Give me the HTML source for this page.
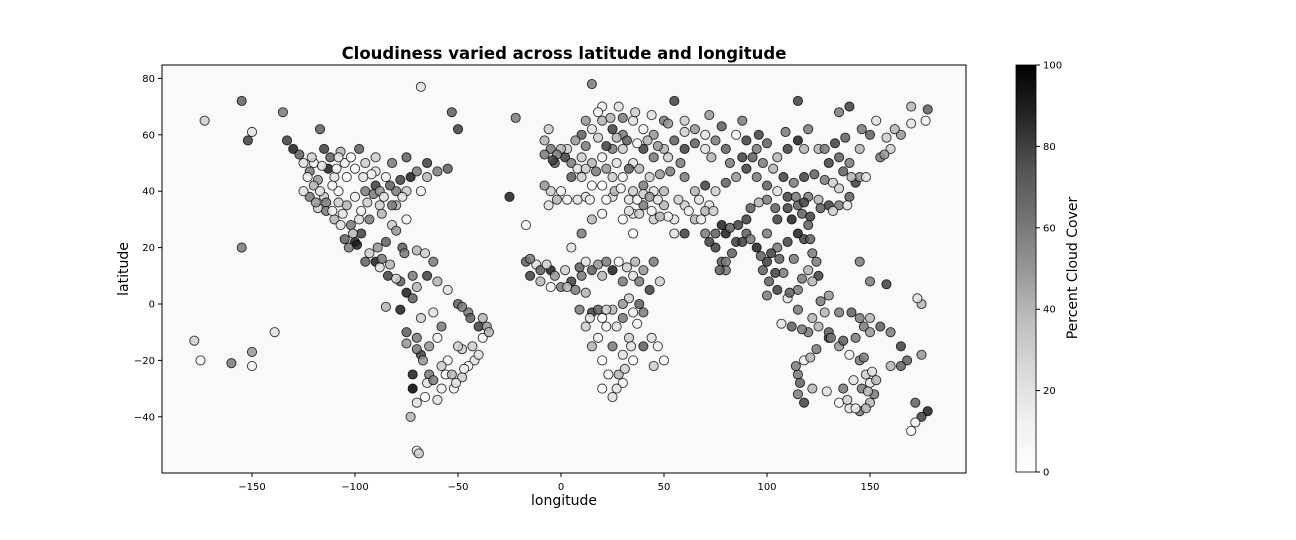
<!DOCTYPE html>
<html><head><meta charset="utf-8"><style>
html,body{margin:0;padding:0;background:#fff;width:1296px;height:540px;overflow:hidden;font-family:"DejaVu Sans","Liberation Sans",sans-serif;}
</style></head><body>
<svg id="chart" width="1296" height="540" xmlns="http://www.w3.org/2000/svg" font-family="DejaVu Sans, Liberation Sans, sans-serif">
<text x="564" y="59" text-anchor="middle" font-size="16.5" font-weight="bold">Cloudiness varied across latitude and longitude</text>
<rect x="162" y="65" width="804" height="408" fill="#f9f9f9" stroke="#000" stroke-width="1"/>
<g id="xticks"></g>
<g id="yticks"></g>
<g id="points"></g>
<text x="564" y="505" text-anchor="middle" font-size="14">longitude</text>
<text x="128" y="269" text-anchor="middle" font-size="14" transform="rotate(-90 128 269)">latitude</text>
<defs><linearGradient id="greys" x1="0" y1="1" x2="0" y2="0">
<stop offset="0" stop-color="#ffffff"/><stop offset="0.125" stop-color="#f0f0f0"/><stop offset="0.25" stop-color="#d9d9d9"/><stop offset="0.375" stop-color="#bdbdbd"/><stop offset="0.5" stop-color="#969696"/><stop offset="0.625" stop-color="#737373"/><stop offset="0.75" stop-color="#525252"/><stop offset="0.875" stop-color="#252525"/><stop offset="1" stop-color="#000000"/>
</linearGradient></defs>
<rect x="1016" y="65" width="20" height="407" fill="url(#greys)" stroke="#000" stroke-width="0.8"/>
<g id="cbticks"></g>
<text x="1077" y="268" text-anchor="middle" font-size="14" transform="rotate(-90 1077 268)">Percent Cloud Cover</text>
</svg>
<script>
const xTicks=[-150,-100,-50,0,50,100,150];
const yTicks=[-40,-20,0,20,40,60,80];
const cbTicks=[0,20,40,60,80,100];
const lons=[],lats=[],clouds=[];
const pts=[[-173,65,30],[-155,72,70],[-150,61,20],[-152,58,80],[-135,68,60],[-133,58,80],[-130,55,90],[-125,50,20],[-122,47,60],[-120,50,10],[-118,34,30],[-115,55,80],[-112,52,70],[-110,45,20],[-108,40,5],[-105,50,10],[-100,48,0],[-104,35,40],[-100,22,90],[-103,20,60],[-98,30,20],[-95,40,60],[-90,42,80],[-88,35,30],[-85,45,10],[-80,40,60],[-78,44,80],[-75,40,30],[-73,45,90],[-70,47,60],[-65,50,80],[-60,47,60],[-55,48,70],[-53,68,70],[-50,62,80],[-68,77,20],[-82,28,30],[-85,22,70],[-90,15,90],[-84,10,80],[-78,8,70],[-75,4,90],[-72,10,60],[-65,10,80],[-60,8,40],[-55,5,20],[-50,0,70],[-45,-3,60],[-40,-8,80],[-38,-12,10],[-42,-20,20],[-48,-16,30],[-55,-20,10],[-58,-30,10],[-64,-25,60],[-68,-18,80],[-70,-12,60],[-75,-10,70],[-78,-2,90],[-72,-30,100],[-70,-35,20],[-73,-40,40],[-66,-33,0],[-60,-34,20],[-52,-30,10],[-48,-26,30],[-70,-52,10],[-69,-53,30],[-72,-25,90],[-64,-15,50],[-58,-8,60],[-62,-3,20],[-56,-25,5],[-45,-22,0],[-50,-15,30],[-44,-5,70],[-38,-5,40],[-85,-1,40],[-155,20,60],[-150,-17,50],[-150,-22,10],[-160,-21,60],[-175,-20,10],[-178,-13,30],[-139,-10,20],[-117,62,70],[-95,50,30],[-90,47,20],[-110,30,40],[-97,25,80],[-93,30,60],[-87,32,40],[-80,26,50],[-77,20,70],[-70,19,40],[-66,18,30],[-62,15,60],[-75,30,10],[-95,15,70],[-88,13,20],[-100,38,10],[-115,38,30],[-122,38,60],[-125,40,20],[-118,44,50],[-113,48,90],[-107,54,40],[-98,55,70],[-90,52,30],[-82,50,60],[-75,52,70],[-65,45,40],[-68,40,10],
[-25,38,90],[-17,28,10],[-22,66,60],[-17,15,70],[-15,10,80],[-10,8,40],[-5,6,10],[0,6,60],[5,8,80],[10,10,60],[2,12,30],[-5,12,90],[-12,14,20],[15,12,70],[20,10,40],[25,12,90],[30,8,60],[35,10,20],[40,12,50],[43,5,80],[48,8,30],[38,0,70],[35,-3,10],[30,-5,60],[25,-2,40],[20,-5,0],[15,-3,80],[12,-8,30],[18,-12,10],[25,-15,60],[30,-18,20],[35,-20,0],[28,-25,40],[20,-30,0],[25,-33,20],[30,-28,10],[45,-22,30],[47,-15,10],[50,-20,5],[40,-15,70],[33,-12,30],[5,20,20],[10,25,60],[15,30,40],[20,32,10],[30,30,0],[35,32,20],[40,35,60],[45,30,30],[50,35,40],[55,25,20],[60,25,80],[35,25,0],[25,38,20],[15,42,0],[10,45,30],[5,45,70],[0,40,10],[-5,40,30],[-8,42,50],[-3,50,70],[2,52,80],[5,50,60],[10,52,30],[15,50,40],[20,52,10],[25,55,60],[30,55,30],[35,50,20],[40,55,80],[45,52,60],[50,55,40],[55,58,70],[60,55,80],[-5,55,60],[-8,58,40],[10,60,70],[15,62,20],[20,65,40],[25,62,80],[30,60,60],[35,65,20],[40,62,10],[45,60,50],[50,65,60],[55,72,80],[20,70,10],[28,70,20],[15,78,60],[30,45,10],[35,40,30],[40,42,60],[45,40,20],[50,40,40],[25,45,30],[20,42,0],[12,38,20],
[60,65,30],[65,62,50],[70,60,20],[75,58,60],[80,55,70],[85,60,10],[90,58,80],[95,55,60],[100,57,70],[105,52,40],[110,55,80],[115,58,90],[120,62,60],[125,55,40],[130,50,80],[135,52,70],[140,50,60],[145,55,40],[150,60,70],[155,52,60],[160,55,30],[165,60,50],[170,70,40],[178,69,70],[177,65,10],[115,72,80],[135,68,60],[140,70,80],[60,45,60],[65,40,40],[70,42,80],[75,40,30],[80,43,70],[85,45,50],[90,48,80],[95,45,60],[100,42,70],[105,40,20],[110,38,80],[115,35,70],[120,38,60],[125,37,40],[130,35,80],[135,35,60],[140,38,70],[143,43,80],[145,45,50],[148,45,20],[65,30,40],[70,25,60],[75,20,80],[78,15,70],[80,25,90],[85,22,80],[90,25,70],[95,20,90],[100,15,80],[105,20,60],[110,22,80],[115,25,90],[120,28,70],[122,18,60],[125,10,80],[120,12,40],[115,5,60],[110,2,20],[105,5,80],[100,3,60],[98,12,70],[72,35,20],[68,30,10],[60,35,30],[55,30,20],[105,30,80],[112,30,90],[117,32,70],[100,25,60],[90,30,80],[80,12,60],
[115,-25,60],[115,-32,60],[118,-20,10],[120,-10,60],[125,-8,40],[130,-12,80],[135,-15,50],[140,-18,10],[145,-20,60],[148,-25,30],[150,-28,20],[152,-32,60],[150,-35,40],[145,-38,60],[140,-37,20],[135,-35,0],[130,-10,70],[145,-5,60],[150,-5,40],[155,-8,70],[160,-10,60],[165,-15,80],[168,-20,70],[175,-18,50],[178,-38,90],[175,-40,80],[172,-42,10],[170,-45,0],[172,-35,70],[175,0,40],[173,2,20],[158,7,80],[150,8,60],[145,15,60],[130,3,50],[118,-35,80],[160,-22,40],[165,-22,70],
[-127,53,70],[-123,45,10],[-120,42,40],[-117,40,20],[-114,36,60],[-111,42,10],[-108,36,30],[-106,32,20],[-102,28,60],[-99,21,90],[-101,25,40],[-97,33,10],[-94,36,30],[-91,39,60],[-88,40,50],[-86,38,20],[-83,42,70],[-80,35,40],[-77,38,20],[-82,35,60],[-92,46,10],[-96,45,20],[-104,45,0],[-109,48,10],[-116,49,20],[-121,52,30],[-108,52,20],[-102,52,0],[-119,36,50],[-114,33,60],[-111,33,10],[-107,28,20],[-105,23,70],[-93,18,30],[-89,20,50],[-87,16,60],[-83,14,40],[-80,9,30],[-76,18,60],[-72,2,70],[-70,6,40],[-68,-5,30],[-75,-14,50],[-70,-16,60],[-67,-20,50],[-65,-28,20],[-62,-27,60],[-58,-22,30],[-53,-25,40],[-51,-28,20],[-47,-23,10],[-43,-15,30],[-40,-18,20],[-36,-8,50],[-35,-10,40],[-48,-1,60],[-60,-12,10],
[-15,16,60],[-10,12,70],[-7,14,30],[-3,10,50],[3,6,40],[7,5,60],[9,13,70],[12,15,20],[18,14,50],[22,15,60],[28,15,10],[32,13,30],[36,15,40],[45,15,60],[38,8,60],[33,2,30],[30,0,50],[27,-8,20],[22,-8,10],[15,-15,40],[20,-20,0],[23,-25,10],[27,-30,20],[31,-23,30],[34,-15,20],[37,-7,10],[40,-3,60],[44,-12,20],[12,4,40],[9,-2,60],[14,-5,20],[18,-2,70],[22,-2,30],
[-6,35,20],[-2,37,40],[3,37,10],[8,37,20],[14,37,10],[22,37,0],[26,40,40],[29,41,10],[33,37,20],[37,37,10],[40,39,30],[43,38,50],[47,37,20],[52,31,10],[48,31,40],[44,33,10],[38,32,30],[33,33,20],[57,37,30],[62,33,10],[67,37,20],[70,33,40],[74,33,30],[58,50,60],[52,52,30],[47,56,50],[42,58,40],[37,57,10],[32,58,70],[27,59,40],[22,56,80],[18,59,30],[12,56,60],[7,58,50],[3,55,30],[0,55,40],[-2,53,60],[-4,51,80],[8,48,20],[12,48,30],[17,47,60],[22,48,50],[27,50,20],[33,48,70],[38,48,40],[43,45,30],[48,46,50],[53,47,60],[-8,53,60],[-6,62,30],[12,65,50],[18,68,10],[24,66,40],[30,66,60],[36,68,30],[44,67,20],[52,64,50],[60,61,30],[65,57,70],[70,55,20],[73,52,40],
[82,50,60],[88,52,80],[93,52,70],[98,50,60],[103,48,40],[108,45,80],[113,43,60],[118,45,80],[123,46,70],[128,44,60],[132,43,30],[137,47,70],[141,45,40],[128,55,60],[133,57,80],[138,59,70],[118,55,40],[109,61,60],[96,60,80],[88,65,60],[78,63,70],[72,67,50],[158,59,30],[162,62,40],[157,53,50],[153,65,20],[146,62,60],[170,64,20],[135,41,30],[139,35,20],[132,33,30],[126,34,70],[121,31,80],[118,36,80],[114,38,60],[110,34,80],[104,34,70],[100,37,60],[96,36,40],[92,34,70],[86,28,80],[82,27,70],[78,28,90],[75,25,70],[72,22,80],[77,12,70],[80,15,60],[83,18,70],[88,22,80],[92,23,60],[97,17,70],[102,18,80],[106,16,70],[108,11,60],[104,11,80],[101,8,70],[113,16,60],[118,23,80],[121,23,70],[124,15,60],[122,8,40],[117,9,60],[111,4,70],[115,-2,60],[107,-7,20],[112,-8,70],[117,-9,60],[122,-5,40],[126,1,60],[128,-3,40],[135,-3,60],[141,-3,70],[147,-8,60],[150,-10,50],[143,-12,60],[137,-13,70],[131,-12,60],[124,-16,60],[121,-19,40],[114,-22,60],[116,-28,70],[122,-30,40],[129,-31,20],[137,-30,60],[142,-27,20],[146,-30,60],[149,-31,40],[151,-24,20],[153,-27,40],[147,-19,60],[139,-34,30],[143,-37,10],[148,-37,40]];
pts.forEach(p=>{lons.push(p[0]);lats.push(p[1]);clouds.push(p[2]);});

const NS="http://www.w3.org/2000/svg";
const X=v=>561+v*2.06, Y=v=>304-v*2.82, CB=v=>472-v*4.07;
const stops=[[255,255,255],[240,240,240],[217,217,217],[189,189,189],[150,150,150],[115,115,115],[82,82,82],[37,37,37],[0,0,0]];
function grey(c){let t=Math.max(0,Math.min(1,c/100))*8,i=Math.min(7,Math.floor(t)),f=t-i;const a=stops[i],b=stops[i+1];return `rgb(${a.map((v,k)=>Math.round(v+(b[k]-v)*f)).join(',')})`;}
function mk(tag,attrs,parent,txt){const e=document.createElementNS(NS,tag);for(const k in attrs)e.setAttribute(k,attrs[k]);if(txt!==undefined)e.textContent=txt;parent.appendChild(e);return e;}
const xg=document.getElementById('xticks'),yg=document.getElementById('yticks'),pg=document.getElementById('points'),cg=document.getElementById('cbticks');
xTicks.forEach(v=>{const l=mk('line',{x1:X(v),x2:X(v),y1:473,y2:477,stroke:'#000'},xg);


const t=mk('text',{x:X(v),y:490,'text-anchor':'middle','font-size':10},xg,String(v).replace('-','\u2212'));

});
yTicks.forEach(v=>{const l=mk('line',{x1:158,x2:162,y1:Y(v),y2:Y(v),stroke:'#000'},yg);


const t=mk('text',{x:155,y:Y(v)+3.5,'text-anchor':'end','font-size':10},yg,String(v).replace('-','\u2212'));

});
cbTicks.forEach(v=>{const l=mk('line',{x1:1036,x2:1040,y1:CB(v),y2:CB(v),stroke:'#000'},cg);


const t=mk('text',{x:1043,y:CB(v)+3.5,'font-size':10},cg,String(v));

});
for(let i=0;i<lons.length;i++){const c=mk('circle',{cx:X(lons[i]),cy:Y(lats[i]),r:4.6,fill:grey(clouds[i]),stroke:'#000','stroke-width':0.9,'fill-opacity':0.85,'stroke-opacity':0.8},pg);

}
</script>
</body></html>
